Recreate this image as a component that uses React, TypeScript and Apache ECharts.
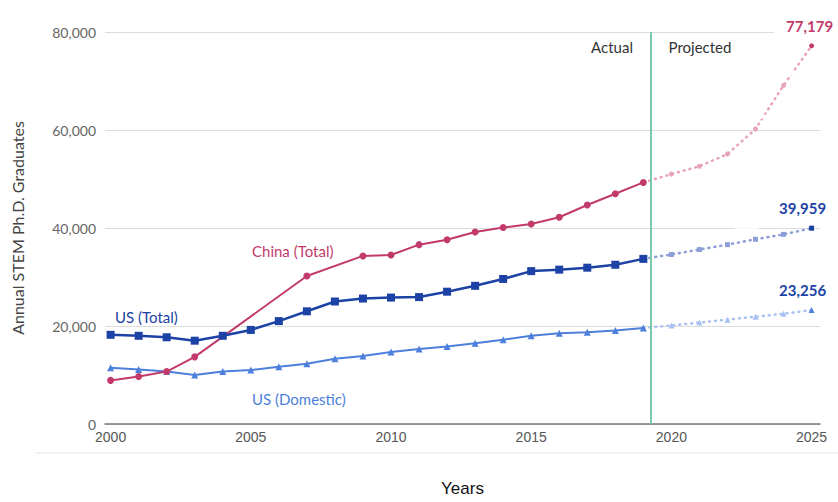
import React, { useEffect, useRef } from "react";
import * as echarts from "echarts";

const years = [2000, 2001, 2002, 2003, 2004, 2005, 2006, 2007, 2008, 2009, 2010, 2011, 2012, 2013, 2014, 2015, 2016, 2017, 2018, 2019];
const chinaActual: (number | null)[] = [8900, 9700, 10700, 13700, null, null, null, 30200, null, 34300, 34500, 36600, 37600, 39200, 40100, 40800, 42200, 44700, 47000, 49300];
const usTotalActual = [18200, 18000, 17700, 17000, 18000, 19200, 21000, 23000, 25000, 25600, 25800, 25900, 27000, 28200, 29600, 31200, 31500, 31900, 32500, 33700];
const usDomesticActual = [11500, 11100, 10700, 10000, 10700, 11000, 11700, 12300, 13300, 13900, 14700, 15300, 15800, 16500, 17200, 18000, 18500, 18700, 19100, 19600];

const projYears = [2019, 2020, 2021, 2022, 2023, 2024, 2025];
const chinaProj = [49300, 51000, 52600, 55100, 60200, 69100, 77179];
const usTotalProj = [33700, 34600, 35600, 36600, 37700, 38700, 39959];
const usDomesticProj = [19600, 20100, 20700, 21300, 21900, 22500, 23256];

const xTicks = [2000, 2005, 2010, 2015, 2020, 2025];
const splitYear = 2019.25;

const PINK = "#c23a6c";
const PINK_L = "#e7a3bd";
const NAVY = "#1c42a6";
const NAVY_L = "#8c9fd8";
const BLUE = "#4d7fdc";
const BLUE_L = "#a9c1f2";
const FONT = "Lato, 'Open Sans', sans-serif";

const fmt = (v: number) => v.toLocaleString("en-US");

function pairs(xs: number[], vs: (number | null)[]) {
  const out: [number, number][] = [];
  xs.forEach((x, i) => {
    const v = vs[i];
    if (v !== null && v !== undefined) out.push([x, v]);
  });
  return out;
}

function projData(vs: number[], full: string) {
  return projYears.map((y, i) => {
    if (i === 0) return { value: [y, vs[i]], symbolSize: 0 };
    if (i === projYears.length - 1) return { value: [y, vs[i]], itemStyle: { color: full } };
    return { value: [y, vs[i]] };
  });
}

export default function App() {
  const ref = useRef<HTMLDivElement>(null);
  useEffect(() => {
    if (!ref.current) return;
    const chart = echarts.init(ref.current, null, { renderer: "svg" });
    const projLabel = (color: string, offset: number[]) => ({
      show: true,
      position: "top",
      distance: 8,
      offset,
      color,
      fontFamily: FONT,
      fontWeight: "bold",
      fontSize: 15,
      backgroundColor: "#fff",
      padding: [2, 12],
      formatter: (p: any) => (p.dataIndex === projYears.length - 1 ? fmt(p.value[1]) : ""),
    });
    chart.setOption({
      animation: false,
      backgroundColor: "#fff",
      grid: { left: 105, right: 18, top: 32, bottom: 72 },
      xAxis: {
        type: "value",
        min: 1999.8,
        max: 2025.3,
        axisLine: { show: true, lineStyle: { color: "#777", width: 1.5 } },
        axisTick: { show: false },
        splitLine: { show: false },
        axisLabel: {
          customValues: xTicks,
          color: "#555",
          fontSize: 14,
          margin: 6,
          fontFamily: "'Liberation Sans Narrow', 'Liberation Sans', Arial, sans-serif",
          formatter: (v: number) => String(v),
        },
        name: "Years",
        nameLocation: "middle",
        nameGap: 56,
        nameTextStyle: { color: "#111", fontSize: 17, fontFamily: "'Liberation Sans', Arial, sans-serif" },
      },
      yAxis: {
        type: "value",
        min: 0,
        max: 80000,
        interval: 20000,
        axisLine: { show: false },
        axisTick: { show: false },
        splitLine: { lineStyle: { color: "#dcdcdc", width: 1 } },
        axisLabel: { color: "#666", fontSize: 14, margin: 9, fontFamily: FONT, formatter: (v: number) => fmt(v) },
        name: "Annual STEM Ph.D. Graduates",
        nameLocation: "middle",
        nameGap: 80,
        nameTextStyle: { color: "#444", fontSize: 16, fontFamily: FONT },
      },
      graphic: [
        { type: "line", shape: { x1: 35, y1: 453, x2: 838, y2: 453 }, style: { stroke: "#e4e4e4", lineWidth: 1 } },
        { type: "text", x: 252, y: 251, style: { text: "China (Total)", fill: PINK, font: `15px ${FONT}`, textVerticalAlign: "middle" } },
        { type: "text", x: 115, y: 317, style: { text: "US (Total)", fill: NAVY, font: `15px ${FONT}`, textVerticalAlign: "middle" } },
        { type: "text", x: 252, y: 399, style: { text: "US (Domestic)", fill: BLUE, font: `15px ${FONT}`, textVerticalAlign: "middle" } },
        { type: "text", x: 612, y: 47, style: { text: "Actual", fill: "#333", font: `15px ${FONT}`, textAlign: "center", textVerticalAlign: "middle" } },
        { type: "text", x: 700, y: 47, style: { text: "Projected", fill: "#333", font: `15px ${FONT}`, textAlign: "center", textVerticalAlign: "middle" } },
      ],
      series: [
        {
          name: "US (Domestic) projected",
          type: "line",
          data: projData(usDomesticProj, BLUE),
          symbol: "triangle",
          symbolSize: 6,
          itemStyle: { color: BLUE_L },
          lineStyle: { color: BLUE_L, width: 2.5, type: [1, 5], cap: "round" },
          label: projLabel(NAVY, [-9, 0]),
          z: 2,
        },
        {
          name: "US (Total) projected",
          type: "line",
          data: projData(usTotalProj, NAVY),
          symbol: "rect",
          symbolSize: 5,
          itemStyle: { color: NAVY_L },
          lineStyle: { color: NAVY_L, width: 2.5, type: [1, 5], cap: "round" },
          label: projLabel(NAVY, [-9, 0]),
          z: 2,
        },
        {
          name: "China projected",
          type: "line",
          data: projData(chinaProj, PINK),
          symbol: "circle",
          symbolSize: 5,
          itemStyle: { color: PINK_L },
          lineStyle: { color: PINK_L, width: 2.5, type: [1, 5], cap: "round" },
          label: projLabel(PINK, [-2, 0]),
          z: 2,
        },
        {
          name: "US (Domestic)",
          type: "line",
          data: pairs(years, usDomesticActual),
          symbol: "triangle",
          symbolSize: 7,
          itemStyle: { color: BLUE },
          lineStyle: { color: BLUE, width: 2 },
          z: 3,
        },
        {
          name: "US (Total)",
          type: "line",
          data: pairs(years, usTotalActual),
          symbol: "rect",
          symbolSize: 8,
          itemStyle: { color: NAVY },
          lineStyle: { color: NAVY, width: 2.5 },
          z: 4,
        },
        {
          name: "China (Total)",
          type: "line",
          data: pairs(years, chinaActual),
          symbol: "circle",
          symbolSize: 7,
          itemStyle: { color: PINK },
          lineStyle: { color: PINK, width: 2 },
          z: 3,
          markLine: {
            silent: true,
            symbol: "none",
            label: { show: false },
            lineStyle: { color: "#7cc9a9", width: 2, type: "solid" },
            data: [{ xAxis: splitYear }],
          },
        },
      ],
    });
    return () => chart.dispose();
  }, []);
  return <div ref={ref} style={{ position: "fixed", left: 0, top: 0, width: 838, height: 502 }} />;
}
